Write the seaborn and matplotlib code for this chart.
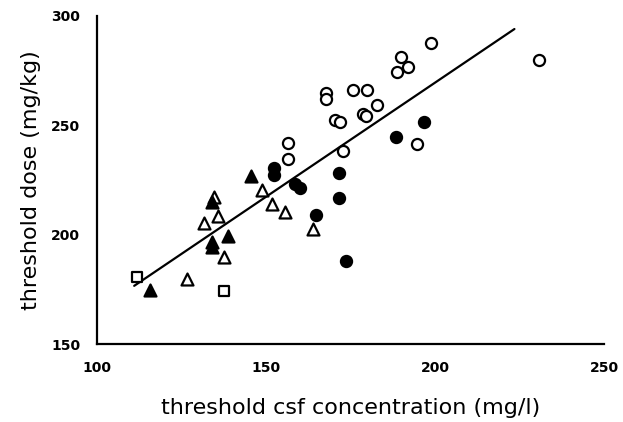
import matplotlib
matplotlib.use("Agg")
import matplotlib.pyplot as plt
import seaborn as sns
import pandas as pd
import numpy as np

# open squares
sq_open_x = [111.7, 137.7]
sq_open_y = [180.8, 174.4]
# filled triangles
tri_fill_x = [115.7, 145.6, 133.9, 138.8, 133.9, 133.9]
tri_fill_y = [174.7, 226.8, 215.0, 199.4, 196.8, 194.3]
# open triangles
tri_open_x = [126.5, 137.7, 131.8, 135.7, 134.7, 148.7, 151.7, 155.6, 163.8]
tri_open_y = [179.6, 189.7, 205.5, 208.5, 217.1, 220.4, 214.0, 210.5, 202.5]
# filled circles
circ_fill_x = [152.5, 152.5, 158.5, 160.0, 164.8, 171.7, 171.7, 173.7, 188.6, 196.8]
circ_fill_y = [230.5, 227.0, 223.0, 221.5, 209.0, 228.0, 216.9, 188.0, 244.5, 251.6]
# open circles
circ_open_x = [230.9, 198.8, 189.8, 191.9, 188.9, 175.8, 179.8, 182.9, 178.8, 179.5,
               194.6, 170.5, 172.0, 172.7, 167.8, 167.8, 156.6, 156.6]
circ_open_y = [279.8, 287.4, 281.3, 276.4, 274.4, 266.1, 266.1, 259.2, 255.0, 254.0,
               241.5, 252.5, 251.5, 238.4, 264.9, 261.8, 242.0, 234.6]

# regression line
line_x = [111.0, 223.5]
slope, intercept = 1.043, 60.8
line_y = [slope * v + intercept for v in line_x]

x_ticks = [100, 150, 200, 250]
y_ticks = [150, 200, 250, 300]

sns.set_theme(style="white")
plt.rcParams['font.family'] = ['DejaVu Sans']

fig = plt.figure(figsize=(6.23, 4.22), dpi=100)
ax = fig.add_axes([97/623, 1-344/422, (604-97)/623, (344-15.7)/422])

sns.lineplot(x=line_x, y=line_y, ax=ax, color='black', linewidth=1.6)

groups = [
    (sq_open_x, sq_open_y, 's', 'white', 62),
    (tri_open_x, tri_open_y, '^', 'white', 74),
    (circ_open_x, circ_open_y, 'o', 'white', 64),
    (tri_fill_x, tri_fill_y, '^', 'black', 74),
    (circ_fill_x, circ_fill_y, 'o', 'black', 64),
]
for gx, gy, m, fc, s in groups:
    df = pd.DataFrame({'x': gx, 'y': gy})
    sns.scatterplot(data=df, x='x', y='y', ax=ax, marker=m, s=s,
                    color=fc, edgecolor='black', linewidth=1.6, zorder=3)

ax.set_xlim(100, 250)
ax.set_ylim(150, 300)
ax.set_xticks(x_ticks)
ax.set_yticks(y_ticks)
for sp in ['top', 'right']:
    ax.spines[sp].set_visible(False)
for sp in ['left', 'bottom']:
    ax.spines[sp].set_linewidth(1.6)
    ax.spines[sp].set_color('black')
ax.tick_params(direction='in', length=4, width=1.4, colors='black')
ax.tick_params(axis='x', pad=12, labelsize=10)
ax.tick_params(axis='y', pad=12, labelsize=10)
for lab in ax.get_xticklabels() + ax.get_yticklabels():
    lab.set_fontweight('bold')

ax.set_xlabel('threshold csf concentration (mg/l)', fontsize=16, labelpad=17, color='black')
ax.set_ylabel('threshold dose (mg/kg)', fontsize=16, labelpad=7, color='black')

fig.savefig('out.png', dpi=100)
